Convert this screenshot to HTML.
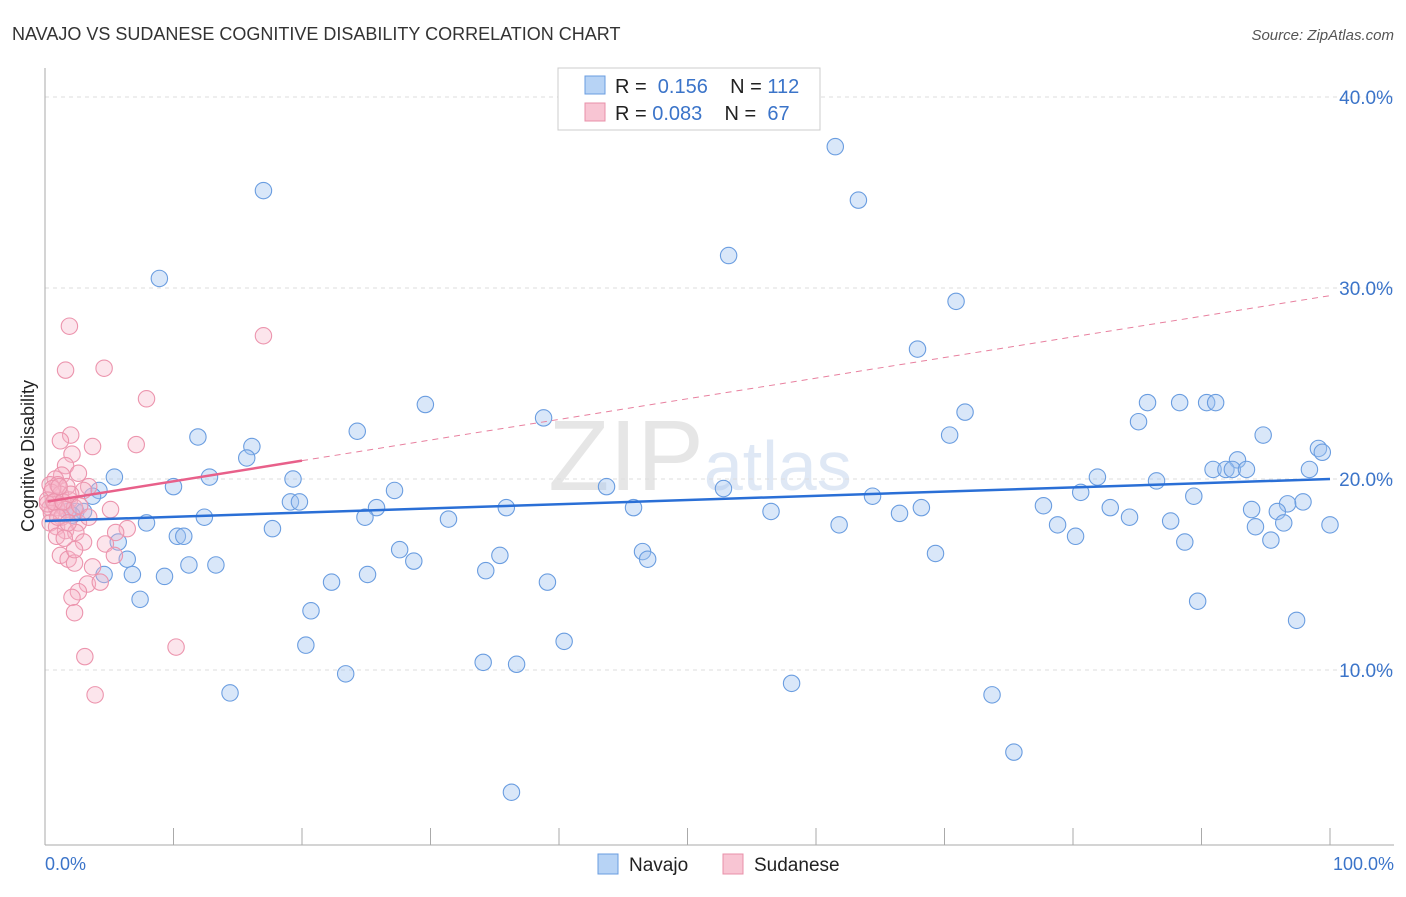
<!DOCTYPE html>
<html><head><meta charset="utf-8"><style>
body{margin:0;background:#fff;font-family:"Liberation Sans",sans-serif}
svg text{font-family:"Liberation Sans",sans-serif}
</style></head><body>
<svg id="c" width="1406" height="892">
<text x="12" y="40" font-size="18" fill="#333">NAVAJO VS SUDANESE COGNITIVE DISABILITY CORRELATION CHART</text>
<text x="1394" y="40" font-size="15" fill="#555" font-style="italic" text-anchor="end">Source: ZipAtlas.com</text>
<text x="700" y="490" font-size="100" fill="#e6e6e6" text-anchor="middle" font-family="Liberation Serif">ZIP<tspan font-family="Liberation Sans" font-size="70" fill="#dfe8f5">atlas</tspan></text>
<g id="grid"></g>
<g id="axes"></g>
<g id="pts"></g>
<g id="trend"></g>
<text transform="translate(34,456) rotate(-90)" font-size="18" fill="#222" text-anchor="middle">Cognitive Disability</text>
<text x="45" y="870" font-size="18" fill="#3b74c9">0.0%</text>
<text x="1394" y="870" font-size="18" fill="#3b74c9" text-anchor="end">100.0%</text>
<g>
<rect x="558" y="68" width="262" height="62" fill="#fff" stroke="#ccc"/>
<rect x="585" y="76" width="20" height="18" fill="#b7d3f5" stroke="#6a9de0"/>
<text x="615" y="93" font-size="20" fill="#222">R = <tspan fill="#3b74c9">&#160;0.156</tspan>&#160;&#160;&#160; N = <tspan fill="#3b74c9">112</tspan></text>
<rect x="585" y="103" width="20" height="18" fill="#f8c5d3" stroke="#e890a8"/>
<text x="615" y="120" font-size="20" fill="#222">R = <tspan fill="#3b74c9">0.083</tspan>&#160;&#160;&#160; N = <tspan fill="#3b74c9">&#160;67</tspan></text>
</g>
<g>
<rect x="598" y="854" width="20" height="20" fill="#b7d3f5" stroke="#6a9de0"/>
<text x="629" y="871" font-size="19" fill="#222">Navajo</text>
<rect x="723" y="854" width="20" height="20" fill="#f8c5d3" stroke="#e890a8"/>
<text x="754" y="871" font-size="19" fill="#222">Sudanese</text>
</g>
</svg>
<script>
const navX=[17.0,8.9,61.5,63.3,53.2,70.9,67.9,29.6,38.8,24.3,11.9,16.1,15.7,71.6,70.4,85.8,85.1,88.3,90.4,91.1,94.8,99.1,99.4,92.8,90.9,91.9,92.4,93.5,98.4,5.4,12.8,19.3,4.2,10,27.2,43.7,52.8,81.9,86.5,80.6,89.4,64.4,3.7,19.1,19.8,2.4,3,1.8,2.1,25.8,35.9,45.8,77.7,82.9,56.5,68.2,66.5,31.4,24.9,12.4,7.9,84.4,87.6,93.9,97.9,96.7,95.9,61.8,78.8,94.2,96.4,100,17.7,80.2,88.7,95.4,5.7,10.3,10.8,27.6,46.5,46.9,69.3,35.4,6.4,28.7,11.2,13.3,34.3,4.6,6.8,9.3,25.1,22.3,39.1,7.4,89.7,20.7,97.4,40.4,20.3,34.1,36.7,23.4,58.1,73.7,14.4,75.4,36.3];
const navY=[35.1,30.5,37.4,34.6,31.7,29.3,26.8,23.9,23.2,22.5,22.2,21.7,21.1,23.5,22.3,24,23,24,24,24,22.3,21.6,21.4,21,20.5,20.5,20.5,20.5,20.5,20.1,20.1,20,19.4,19.6,19.4,19.6,19.5,20.1,19.9,19.3,19.1,19.1,19.1,18.8,18.8,18.3,18.3,18.3,18.1,18.5,18.5,18.5,18.6,18.5,18.3,18.5,18.2,17.9,18,18.0,17.7,18.0,17.8,18.4,18.8,18.7,18.3,17.6,17.6,17.5,17.7,17.6,17.4,17,16.7,16.8,16.7,17,17,16.3,16.2,15.8,16.1,16,15.8,15.7,15.5,15.5,15.2,15,15,14.9,15,14.6,14.6,13.7,13.6,13.1,12.6,11.5,11.3,10.4,10.3,9.8,9.3,8.7,8.8,5.7,3.6];
const sudX=[1.9,17,1.6,4.6,7.9,2,1.2,3.7,7.1,2.1,1.6,2.6,1.3,0.8,0.4,1,1.7,3.4,3,0.5,1.2,0.2,1.9,0.8,1.3,0.4,0.9,1.6,2.3,5.1,0.5,1.3,2.6,0.4,0.9,1.6,2.4,6.4,5.5,3,4.7,5.4,1.2,1.8,2.3,3.7,3.3,4.3,2.6,2.1,2.3,10.2,3.1,3.9,1,0.6,0.2,0.7,1.4,2,2.7,3.4,1.8,0.9,2.3,1.5,1.1];
const sudY=[28,27.5,25.7,25.8,24.2,22.3,22,21.7,21.8,21.3,20.7,20.3,20.2,20,19.7,19.7,19.6,19.6,19.4,19.3,19.2,18.9,18.9,18.8,18.6,18.5,18.5,18.4,18.5,18.4,18.2,18,17.7,17.7,17.5,17.3,17.2,17.4,17.2,16.7,16.6,16,16,15.8,15.6,15.4,14.5,14.6,14.1,13.8,13,11.2,10.7,8.7,18,19.5,18.7,18.8,18.8,19.2,18.6,18,17.7,17,16.3,16.9,19.6];
const navTrend=[17.8,20.0];
const sudTrend=[18.8,29.6];
const yTicks=[10,20,30,40];
const xTicks=[0,10,20,30,40,50,60,70,80,90,100];
const X=v=>45+v*12.85, Y=v=>861-v*19.1;
const NS="http://www.w3.org/2000/svg";
function mk(tag,attrs,parent){const e=document.createElementNS(NS,tag);for(const k in attrs)e.setAttribute(k,attrs[k]);document.getElementById(parent).appendChild(e);return e;}
yTicks.forEach(t=>{
 const l=mk('line',{x1:45,x2:1394,y1:Y(t),y2:Y(t),stroke:'#ddd','stroke-dasharray':'4,4'},'grid');
 
 
 const tx=mk('text',{x:1393,y:Y(t)+7,'font-size':19,fill:'#3b74c9','text-anchor':'end'},'grid');tx.textContent=t.toFixed(1)+'%';
 
 
});
const ax=mk('line',{x1:45,x2:45,y1:68,y2:845,stroke:'#aaa'},'axes');


const bx=mk('line',{x1:45,x2:1394,y1:845,y2:845,stroke:'#aaa'},'axes');


xTicks.forEach(t=>{const l=mk('line',{x1:X(t),x2:X(t),y1:828,y2:845,stroke:'#aaa'},'axes');
 
 });
navX.forEach((v,i)=>{const c=mk('circle',{cx:X(v),cy:Y(navY[i]),r:8.2,fill:'rgba(160,196,240,0.4)',stroke:'#6a9de0','stroke-width':1.1},'pts');
 
 });
sudX.forEach((v,i)=>{const c=mk('circle',{cx:X(v),cy:Y(sudY[i]),r:8.2,fill:'rgba(246,180,200,0.35)',stroke:'#ec94ad','stroke-width':1.1},'pts');
 
 });
const nt=mk('line',{x1:X(0),y1:Y(navTrend[0]),x2:X(100),y2:Y(navTrend[1]),stroke:'#2a6fd6','stroke-width':2.5},'trend');


const sy=x=>sudTrend[0]+(sudTrend[1]-sudTrend[0])*x/100;
const sd=mk('line',{x1:X(20),y1:Y(sy(20)),x2:X(100),y2:Y(sy(100)),stroke:'#e8809f','stroke-width':1,'stroke-dasharray':'6,5'},'trend');


const st=mk('line',{x1:X(0.2),y1:Y(sy(0.2)),x2:X(20),y2:Y(sy(20)),stroke:'#e8608a','stroke-width':2.5},'trend');


</script>
</body></html>
